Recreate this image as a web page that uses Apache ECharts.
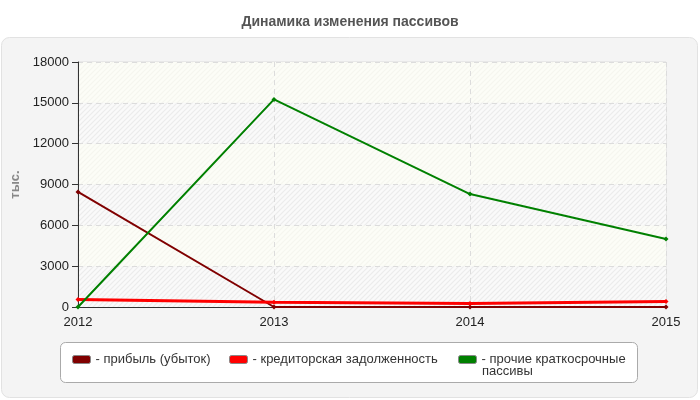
<!DOCTYPE html>
<html>
<head>
<meta charset="utf-8">
<script src="https://cdn.jsdelivr.net/npm/echarts@6/dist/echarts.min.js"></script>
<style>
  html, body { margin: 0; padding: 0; background: #fff; }
  #chart { width: 700px; height: 400px; }
</style>
</head>
<body>
<div id="chart"></div>
<script>
// данные графика
const years = ['2012', '2013', '2014', '2015'];
const profit = [8450, 0, 0, 0];
const payables = [550, 350, 250, 400];
const otherLiabilities = [0, 15250, 8300, 5000];

const seriesNames = ['прибыль (убыток)', 'кредиторская задолженность', 'прочие краткосрочные пассивы'];
const seriesColors = ['#800000', '#ff0000', '#008000'];

const FONT = "'Liberation Sans', Arial, sans-serif";

// штриховка фона
function hatch(base, line) {
  const c = document.createElement('canvas');
  c.width = 5;
  c.height = 5;
  const ctx = c.getContext('2d');
  ctx.fillStyle = base;
  ctx.fillRect(0, 0, 5, 5);
  ctx.strokeStyle = line;
  ctx.lineWidth = 1.2;
  ctx.beginPath();
  ctx.moveTo(0, 5); ctx.lineTo(5, 0);
  ctx.moveTo(-3, 3); ctx.lineTo(3, -3);
  ctx.moveTo(2, 8); ctx.lineTo(8, 2);
  ctx.stroke();
  return { image: c, repeat: 'repeat' };
}

const chart = echarts.init(document.getElementById('chart'));

function legendFor(idx, left, text) {
  return {
    data: [seriesNames[idx]],
    left: left,
    top: 353,
    padding: 0,
    icon: 'roundRect',
    itemWidth: 18,
    itemHeight: 8,
    itemStyle: { borderColor: '#888', borderWidth: 1 },
    formatter: function () { return text; },
    textStyle: { fontFamily: FONT, fontSize: 13, color: '#333' }
  };
}

const option = {
  backgroundColor: '#fff',
  animation: false,
  title: {
    text: 'Динамика изменения пассивов',
    left: 'center',
    top: 10,
    textStyle: {
      fontFamily: FONT,
      fontSize: 14,
      fontWeight: 'bold',
      color: '#555'
    }
  },
  graphic: [
    {
      type: 'rect',
      z: -10,
      silent: true,
      shape: { x: 1.5, y: 37.5, width: 696, height: 360, r: 8 },
      style: { fill: '#f4f4f4', stroke: '#e2e2e2', lineWidth: 1 }
    },
    {
      type: 'rect',
      z: -9,
      silent: true,
      shape: { x: 60.5, y: 342.5, width: 577, height: 40, r: 5 },
      style: { fill: '#fff', stroke: '#aaa', lineWidth: 1 }
    },
    {
      type: 'text',
      silent: true,
      left: 482,
      top: 365,
      style: { text: 'пассивы', font: '13px ' + FONT, fill: '#333' }
    }
  ],
  legend: [
    legendFor(0, 72, '- прибыль (убыток)'),
    legendFor(1, 229, '- кредиторская задолженность'),
    legendFor(2, 458, '- прочие краткосрочные')
  ],
  grid: {
    left: 78,
    right: 34,
    top: 62,
    bottom: 93,
    show: true,
    borderColor: '#dcdcdc',
    borderWidth: 1
  },
  xAxis: {
    type: 'category',
    data: years,
    boundaryGap: false,
    axisLine: { lineStyle: { color: '#333', width: 1 } },
    axisTick: { show: false },
    axisLabel: {
      fontFamily: FONT,
      fontSize: 13,
      color: '#222',
      margin: 9
    },
    splitLine: { show: true, lineStyle: { color: '#dcdcdc', type: [5, 4] } }
  },
  yAxis: {
    type: 'value',
    min: 0,
    max: 18000,
    interval: 3000,
    name: 'тыс.',
    nameLocation: 'middle',
    nameGap: 50,
    nameTextStyle: {
      fontFamily: FONT,
      fontSize: 13,
      fontWeight: 'bold',
      color: '#888'
    },
    axisLine: { show: true, lineStyle: { color: '#333', width: 1 } },
    axisTick: { show: true, length: 6, lineStyle: { color: '#333' } },
    axisLabel: {
      fontFamily: FONT,
      fontSize: 13,
      color: '#222',
      margin: 9,
      formatter: function (v) { return String(v); }
    },
    splitLine: { show: true, lineStyle: { color: '#dcdcdc', type: [5, 4] } },
    splitArea: {
      show: true,
      areaStyle: {
        color: [hatch('#fafafa', '#ececec'), hatch('#fcfdf7', '#f5f6ef')]
      }
    }
  },
  series: [
    {
      name: seriesNames[0],
      type: 'line',
      data: profit,
      color: seriesColors[0],
      symbol: 'diamond',
      symbolSize: 5,
      lineStyle: { width: 2 }
    },
    {
      name: seriesNames[1],
      type: 'line',
      data: payables,
      color: seriesColors[1],
      symbol: 'diamond',
      symbolSize: 5,
      lineStyle: { width: 3 }
    },
    {
      name: seriesNames[2],
      type: 'line',
      data: otherLiabilities,
      color: seriesColors[2],
      symbol: 'diamond',
      symbolSize: 5,
      lineStyle: { width: 2 }
    }
  ]
};

chart.setOption(option);
</script>
</body>
</html>
